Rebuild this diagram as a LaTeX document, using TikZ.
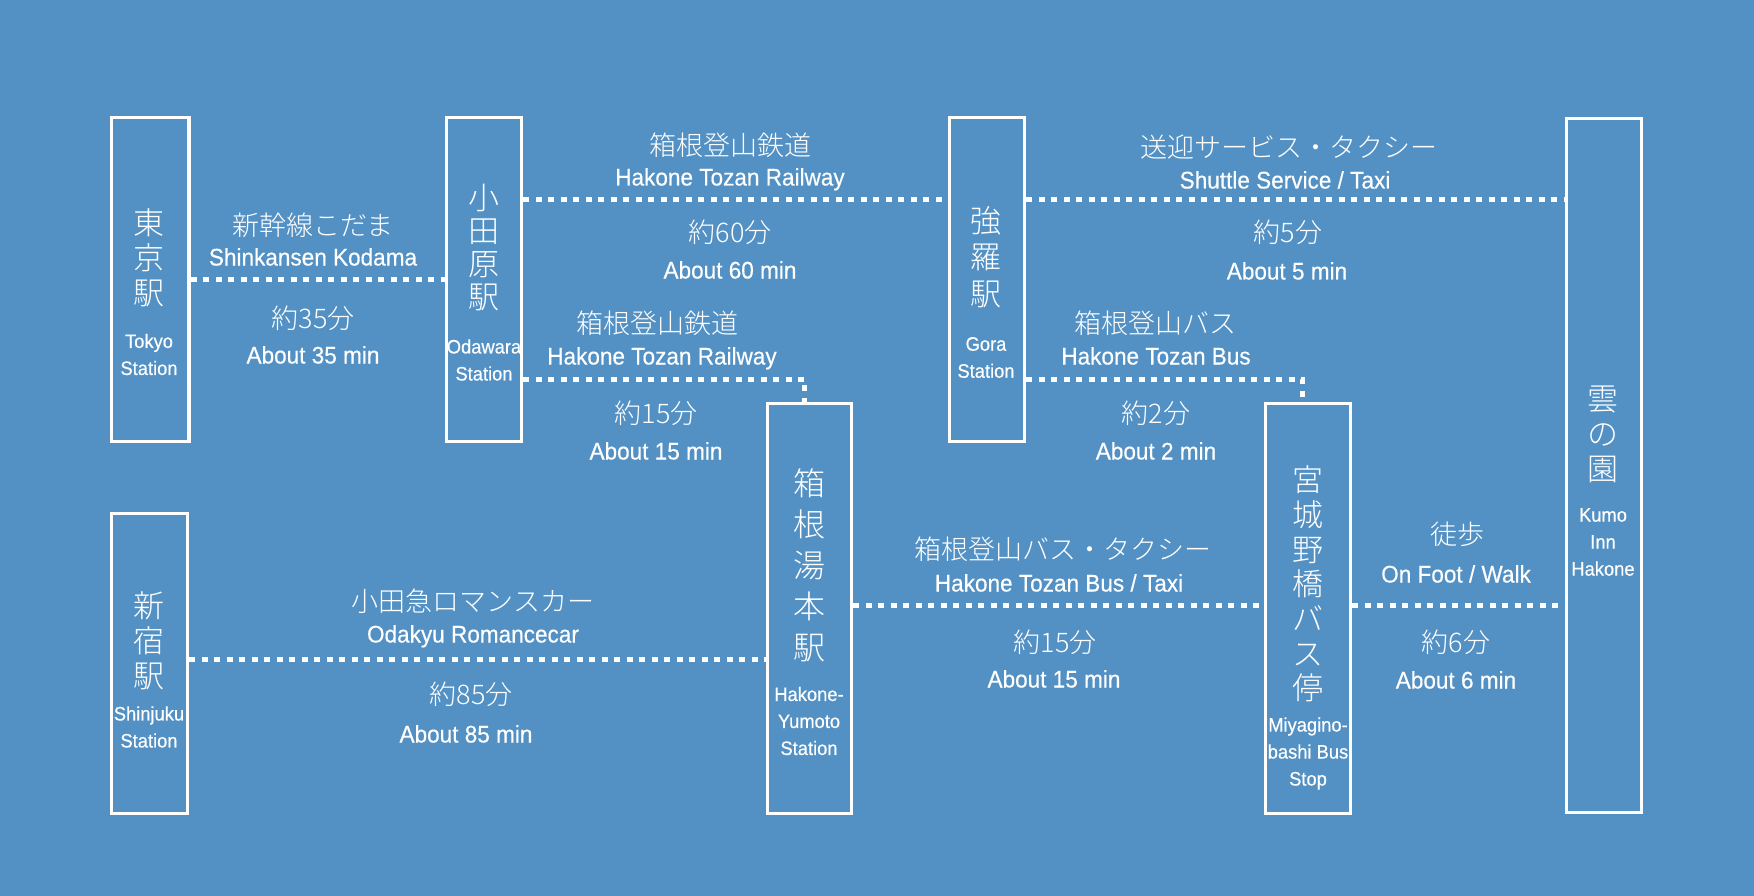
\documentclass[tikz,border=0pt]{standalone}
\usepackage{fontspec}
\newfontfamily\enf[FakeStretch=0.94,FakeBold=0.4]{Liberation Sans}
\IfFontExistsTF{Noto Sans CJK JP Light}{\newfontfamily\jpf{Noto Sans CJK JP Light}}{\newfontfamily\jpf{Noto Sans CJK JP}}
\definecolor{bg}{RGB}{83,145,196}
\begin{document}
\begin{tikzpicture}[x=1pt,y=-1pt,
  box/.style={draw=white,line width=3.5pt,inner sep=0pt},
  conn/.style={draw=white,line width=5pt,dash pattern=on 6pt off 6.5pt},
  en/.style={text=white,inner sep=0pt,font=\enf\fontsize{24}{28}\selectfont,text height=17pt,text depth=0pt},
  jp/.style={text=white,inner sep=0pt,font=\jpf\fontsize{27}{32}\selectfont,text height=23.8pt,text depth=3.2pt},
  sjp/.style={text=white,inner sep=0pt,align=center},
  sen/.style={text=white,inner sep=0pt,align=center,font=\enf\fontsize{19.5}{27}\selectfont}]
\fill[bg] (0,0) rectangle (1754,896);
\useasboundingbox (0,0) rectangle (1754,896);
% station boxes
\node[box,minimum width=77.5pt,minimum height=324pt] (tokyo) at (150,279.5) {};
\node[box,minimum width=75pt,minimum height=324pt] (odawara) at (484,279.5) {};
\node[box,minimum width=75pt,minimum height=324pt] (gora) at (987,279.5) {};
\node[box,minimum width=75pt,minimum height=694pt] (kumo) at (1604,465.5) {};
\node[box,minimum width=76pt,minimum height=300pt] (shinjuku) at (149.5,663.5) {};
\node[box,minimum width=84pt,minimum height=410pt] (yumoto) at (809.5,608.5) {};
\node[box,minimum width=85pt,minimum height=410pt] (miyagino) at (1308,608.5) {};
% station names
\node[sjp,font=\jpf\fontsize{31}{35}\selectfont] (tokyoj) at (149,258) {東\\京\\駅};
\node[sen] (tokyoe) at (149,354.5) {Tokyo\\Station};
\node[sjp,font=\jpf\fontsize{31}{33}\selectfont] (odawaraj) at (484,248) {小\\田\\原\\駅};
\node[sen] (odawarae) at (484,360) {Odawara\\Station};
\node[sjp,font=\jpf\fontsize{31}{36.5}\selectfont] (goraj) at (986,257) {強\\羅\\駅};
\node[sen] (gorae) at (986,357.5) {Gora\\Station};
\node[sjp,font=\jpf\fontsize{31}{35}\selectfont] (shinjukuj) at (149,641) {新\\宿\\駅};
\node[sen] (shinjukue) at (149,727) {Shinjuku\\Station};
\node[sjp,font=\jpf\fontsize{32}{41}\selectfont] (yumotoj) at (809,565) {箱\\根\\湯\\本\\駅};
\node[sen] (yumotoe) at (809,721) {Hakone-\\Yumoto\\Station};
\node[sjp,font=\jpf\fontsize{31}{34.7}\selectfont] (miyaginoj) at (1308,584) {宮\\城\\野\\橋\\バ\\ス\\停};
\node[sen] (miyaginoe) at (1308,753.5) {Miyagino-\\bashi Bus\\Stop};
\node[sjp,font=\jpf\fontsize{31}{35}\selectfont] (kumoj) at (1603,434) {雲\\の\\園};
\node[sen] (kumoe) at (1603,542) {Kumo\\Inn\\Hakone};
% connectors
\draw[conn] (tokyo) -- (odawara);
\draw[conn] ([yshift=79.5pt]odawara.east) coordinate (og) -- (og -| gora.west);
\draw[conn] ([yshift=79.5pt]gora.east) coordinate (gk) -- (gk -| kumo.west);
\draw[conn] ([yshift=-99.5pt]odawara.east) coordinate (oy) -| ([xshift=-5pt]yumoto.north);
\draw[conn] ([yshift=-99.5pt]gora.east) coordinate (gm) -| ([xshift=-6pt]miyagino.north);
\draw[conn] ([yshift=4.5pt]shinjuku.east) coordinate (sy) -- (sy -| yumoto.west);
\draw[conn] ([yshift=3.5pt]yumoto.east) coordinate (ym) -- (ym -| miyagino.west);
\draw[conn] ([yshift=3.5pt]miyagino.east) coordinate (mk) -- (mk -| kumo.west);
% edge labels
\node[jp] (l1a) at (313,225) {新幹線こだま};
\node[en] (l1b) at (313,257) {Shinkansen Kodama};
\node[jp] (l1c) at (313,318) {約35分};
\node[en] (l1d) at (313,355) {About 35 min};
\node[jp] (l2a) at (730,145) {箱根登山鉄道};
\node[en] (l2b) at (730,177) {Hakone Tozan Railway};
\node[jp] (l2c) at (730,232) {約60分};
\node[en] (l2d) at (730,270) {About 60 min};
\node[jp] (l3a) at (1289,147) {送迎サービス・タクシー};
\node[en] (l3b) at (1285,180) {Shuttle Service / Taxi};
\node[jp] (l3c) at (1288,232) {約5分};
\node[en] (l3d) at (1287,271) {About 5 min};
\node[jp] (l4a) at (657,323) {箱根登山鉄道};
\node[en] (l4b) at (662,356) {Hakone Tozan Railway};
\node[jp] (l4c) at (656,413) {約15分};
\node[en] (l4d) at (656,451) {About 15 min};
\node[jp] (l5a) at (1155,323) {箱根登山バス};
\node[en] (l5b) at (1156,356) {Hakone Tozan Bus};
\node[jp] (l5c) at (1156,413) {約2分};
\node[en] (l5d) at (1156,451) {About 2 min};
\node[jp] (l6a) at (473,601) {小田急ロマンスカー};
\node[en] (l6b) at (473,634) {Odakyu Romancecar};
\node[jp] (l6c) at (471,694) {約85分};
\node[en] (l6d) at (466,734) {About 85 min};
\node[jp] (l7a) at (1063,549) {箱根登山バス・タクシー};
\node[en] (l7b) at (1059,583) {Hakone Tozan Bus / Taxi};
\node[jp] (l7c) at (1055,642) {約15分};
\node[en] (l7d) at (1054,679) {About 15 min};
\node[jp] (l8a) at (1457,534) {徒歩};
\node[en] (l8b) at (1456,574) {On Foot / Walk};
\node[jp] (l8c) at (1456,642) {約6分};
\node[en] (l8d) at (1456,680) {About 6 min};
\end{tikzpicture}
\end{document}
